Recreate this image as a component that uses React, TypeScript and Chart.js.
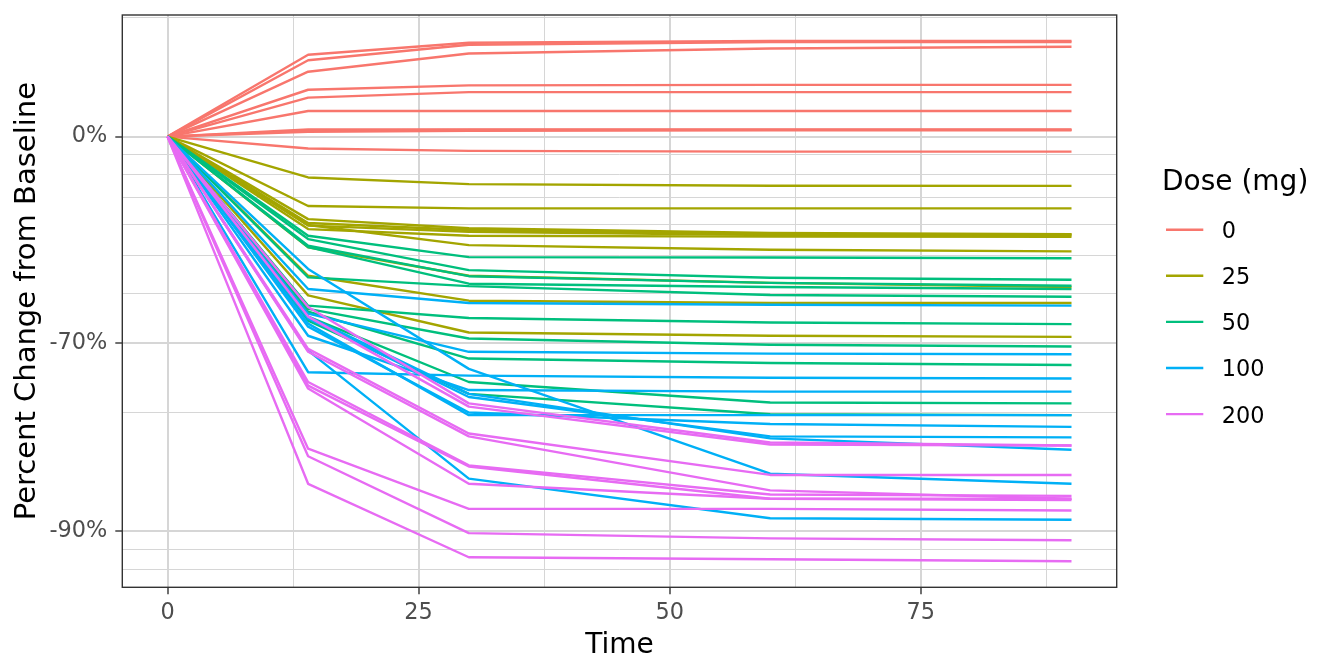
import { useEffect, useRef } from 'react';
import { Chart, registerables } from 'chart.js';

Chart.register(...registerables);

const FONT = '"DejaVu Sans", Verdana, sans-serif';

const times = [0, 14, 30, 60, 90];
const doseLabels = ['0', '25', '50', '100', '200'];
const doseColors = ['#F8766D', '#A3A500', '#00BF7D', '#00B0F6', '#E76BF3'];

// percent change from baseline at day 14, 30, 60, 90 (day 0 is always 0)
const dose0 = [
  [61.1, 72.8, 74.6, 74.6],
  [56.1, 70.8, 73.6, 73.6],
  [46.0, 62.3, 67.1, 68.8],
  [31.4, 34.8, 35.2, 35.2],
  [25.5, 29.6, 29.6, 29.6],
  [16.1, 16.1, 16.1, 16.1],
  [4.3, 4.3, 4.3, 4.3],
  [3.7, 4.0, 4.0, 4.0],
  [2.8, 3.4, 3.7, 3.7],
  [-6.7, -8.0, -8.4, -8.4],
];
const dose25 = [
  [-21.2, -24.2, -24.9, -25.0],
  [-33.3, -34.2, -34.2, -34.2],
  [-38.2, -41.4, -43.0, -43.4],
  [-40.5, -42.6, -43.7, -43.8],
  [-41.7, -43.9, -44.2, -44.3],
  [-39.6, -42.0, -43.4, -43.5],
  [-40.3, -46.9, -48.3, -48.8],
  [-47.6, -55.6, -57.4, -58.4],
  [-55.6, -61.6, -62.1, -62.1],
  [-60.4, -68.1, -68.7, -68.9],
];
const dose50 = [
  [-43.9, -50.5, -50.6, -50.8],
  [-45.0, -54.1, -56.1, -56.6],
  [-47.1, -55.7, -57.4, -58.1],
  [-47.5, -57.6, -58.4, -58.9],
  [-56.0, -58.2, -60.3, -60.7],
  [-62.7, -65.3, -66.2, -66.5],
  [-63.4, -69.2, -70.3, -70.6],
  [-64.0, -72.6, -73.3, -73.6],
  [-65.0, -76.1, -78.8, -78.9],
  [-65.8, -77.7, -80.2, -80.3],
];
const dose100 = [
  [-58.9, -62.1, -62.5, -62.7],
  [-64.4, -71.5, -71.8, -71.9],
  [-74.7, -75.2, -75.5, -75.6],
  [-68.7, -77.2, -77.4, -77.4],
  [-66.4, -80.3, -80.3, -80.3],
  [-67.0, -80.0, -81.3, -81.6],
  [-65.4, -78.1, -82.6, -82.7],
  [-65.0, -77.7, -82.8, -83.9],
  [-53.8, -74.2, -86.0, -86.8],
  [-71.3, -86.4, -89.2, -89.3],
];
const dose200 = [
  [-63.0, -78.9, -83.2, -83.5],
  [-65.0, -79.3, -83.4, -83.5],
  [-71.0, -82.3, -86.1, -86.1],
  [-71.5, -82.6, -87.3, -87.9],
  [-76.1, -85.3, -87.6, -87.7],
  [-76.6, -85.4, -87.9, -88.0],
  [-77.0, -86.8, -87.9, -87.9],
  [-83.8, -88.6, -88.6, -88.7],
  [-84.5, -90.1, -90.4, -90.5],
  [-86.8, -91.4, -91.5, -91.6],
];
const doseGroups = [dose0, dose25, dose50, dose100, dose200];

const xBreaks = [0, 12.5, 25, 37.5, 50, 62.5, 75, 87.5];
const xLabels = ['0', '', '25', '', '50', '', '75', ''];
const yBreaks = [100, 0, -10, -20, -30, -40, -50, -60, -70, -80, -90, -91, -92];
const yLabels = ['', '0%', '', '', '', '', '', '', '-70%', '', '-90%', '', ''];

// y axis is log(1 + pct/100)
const toLog = (p: number) => Math.log(1 + p / 100);

const datasets = doseGroups.flatMap((rows, g) =>
  rows.map((r, i) => ({
    label: `${doseLabels[g]} #${i + 1}`,
    data: [0, ...r].map((p, k) => ({ x: times[k], y: toLog(p) })),
    borderColor: doseColors[g],
    borderWidth: 2.4,
    borderJoinStyle: 'round' as const,
    pointRadius: 0,
    tension: 0,
    fill: false,
  })),
).map((d, i) => ({ ...d, order: -i }));

const allY = datasets.flatMap(d => d.data.map(p => p.y));
const yMin0 = Math.min(...allY);
const yMax0 = Math.max(...allY);
const yPad = (yMax0 - yMin0) * 0.05;

const panelBorder = {
  id: 'panelBorder',
  afterDatasetsDraw(chart: Chart) {
    const { ctx, chartArea: a } = chart;
    ctx.save();
    ctx.strokeStyle = '#333333';
    ctx.lineWidth = 1.4;
    ctx.strokeRect(a.left, a.top, a.right - a.left, a.bottom - a.top);
    ctx.restore();
  },
};

const doseLegend = {
  id: 'doseLegend',
  afterDraw(chart: Chart) {
    const ctx = chart.ctx;
    ctx.save();
    ctx.fillStyle = '#000000';
    ctx.textAlign = 'left';
    ctx.textBaseline = 'alphabetic';
    ctx.font = `28px ${FONT}`;
    ctx.fillText('Dose (mg)', 1162, 190);
    ctx.font = `22.4px ${FONT}`;
    doseLabels.forEach((lab, i) => {
      const y = 229.7 + i * 46.1;
      ctx.strokeStyle = doseColors[i];
      ctx.lineWidth = 2.4;
      ctx.beginPath();
      ctx.moveTo(1166, y);
      ctx.lineTo(1203.3, y);
      ctx.stroke();
      ctx.fillText(lab, 1221.8, y + 8.4);
    });
    ctx.restore();
  },
};

function SpaghettiChart() {
  const ref = useRef<HTMLCanvasElement>(null);

  useEffect(() => {
    if (!ref.current) return;
    const tickFont = { family: FONT, size: 22.4 };
    const titleFont = { family: FONT, size: 28 };
    const chart = new Chart(ref.current, {
      type: 'line',
      data: { datasets },
      plugins: [panelBorder, doseLegend],
      options: {
        animation: false,
        responsive: true,
        maintainAspectRatio: false,
        events: [],
        layout: { padding: { top: 15, right: 227.3, bottom: 0, left: 0 } },
        plugins: { legend: { display: false }, tooltip: { enabled: false } },
        scales: {
          x: {
            type: 'linear',
            min: -4.5,
            max: 94.5,
            afterBuildTicks: (s: any) => { s.ticks = xBreaks.map(v => ({ value: v })); },
            afterFit: (s: any) => {
              s.height = 84.7;
              s.paddingLeft = 0;
              s.paddingRight = 0;
            },
            ticks: {
              autoSkip: false,
              maxRotation: 0,
              padding: 5.5,
              color: '#4D4D4D',
              font: tickFont,
              callback: (_v: any, i: number) => xLabels[i],
            },
            grid: {
              color: '#d6d6d6',
              lineWidth: (c: any) => (xLabels[c.index] ? 2 : 1),
              drawTicks: true,
              tickLength: 7,
              tickWidth: 1.4,
              tickColor: (c: any) => (xLabels[c.index] ? '#333333' : 'rgba(0,0,0,0)'),
            },
            border: { display: false },
            title: {
              display: true,
              text: 'Time',
              color: '#000000',
              font: titleFont,
              padding: { top: 0, bottom: 9.5 },
            },
          },
          y: {
            type: 'linear',
            min: yMin0 - yPad,
            max: yMax0 + yPad,
            afterBuildTicks: (s: any) => { s.ticks = yBreaks.map(v => ({ value: toLog(v) })); },
            afterFit: (s: any) => {
              s.width = 122.3;
              s.paddingTop = 0;
              s.paddingBottom = 0;
            },
            ticks: {
              autoSkip: false,
              padding: 8,
              color: '#4D4D4D',
              font: tickFont,
              callback: (_v: any, i: number) => yLabels[i],
            },
            grid: {
              color: '#d6d6d6',
              lineWidth: (c: any) => (yLabels[c.index] ? 2 : 1),
              drawTicks: true,
              tickLength: 7,
              tickWidth: 1.4,
              tickColor: (c: any) => (yLabels[c.index] ? '#333333' : 'rgba(0,0,0,0)'),
            },
            border: { display: false },
            title: {
              display: true,
              text: 'Percent Change from Baseline',
              color: '#000000',
              font: { family: FONT, size: 29 },
              padding: { top: 10.5, bottom: 0 },
            },
          },
        },
      },
    } as any);
    return () => chart.destroy();
  }, []);

  return (
    <div style={{ position: 'fixed', left: 0, top: 0, width: 1344, height: 672, background: '#ffffff' }}>
      <canvas ref={ref} />
    </div>
  );
}

export default function App() {
  return <SpaghettiChart />;
}
